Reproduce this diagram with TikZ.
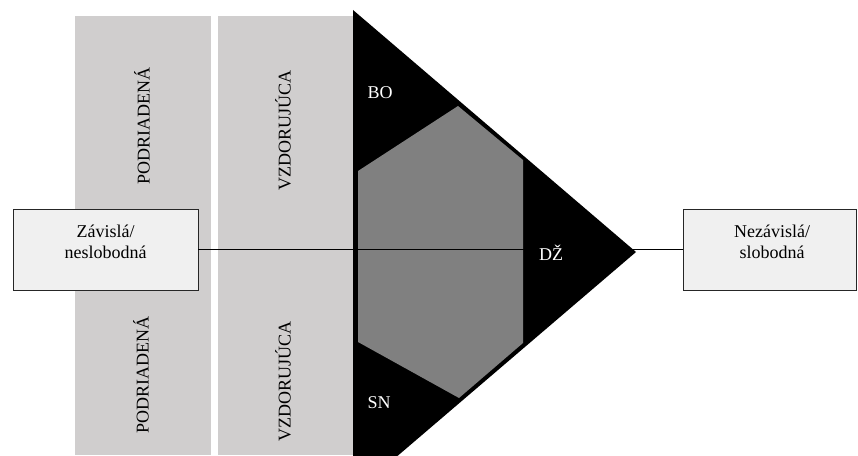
\documentclass[tikz,border=0pt]{standalone}
\usepackage{fontspec}
\setmainfont{Liberation Serif}
\definecolor{colgray}{RGB}{208,206,206}
\definecolor{boxfill}{RGB}{240,240,240}
\definecolor{hexgray}{RGB}{128,128,128}
\begin{document}
\begin{tikzpicture}[x=1pt,y=1pt,
  txt/.style={font=\fontsize{18}{21}\selectfont, inner sep=0pt},
  coltxt/.style={txt, rotate=90},
  wtxt/.style={txt, text=white},
  sidebox/.style={draw=black!85, line width=0.9pt, fill=boxfill, minimum width=185pt, minimum height=81pt, inner sep=0pt}]
\useasboundingbox (0,0) rectangle (858,455);
\clip (0,0) rectangle (858,455);
% columns
\fill[colgray] (75,0) rectangle (211,439);
\fill[colgray] (218,0) rectangle (353,439);
\node[coltxt] (p1) at (142,329) {PODRIADENÁ};
\node[coltxt] (p2) at (141,80) {PODRIADENÁ};
\node[coltxt] (v1) at (283,325) {VZDORUJÚCA};
\node[coltxt] (v2) at (283,74) {VZDORUJÚCA};
% triangle
\fill[black] (353,445) -- (636,203) -- (353,-39) -- cycle;
% hexagon
\fill[hexgray] (358,284) -- (458,349) -- (523,295) -- (523,112) -- (459,57) -- (358,113) -- cycle;
% boxes
\node[sidebox] (left) at (105.5,205.5) {};
\node[sidebox, minimum width=173pt] (right) at (769.5,205.5) {};
\node[txt, align=center] (lt) at (105.5,213) {Závislá/\\neslobodná};
\node[txt, align=center] (rt) at (772,213) {Nezávislá/\\slobodná};
% connector
\draw[line width=0.9pt] (left.east) -- (right.west);
% labels
\node[wtxt] (bo) at (380,362) {BO};
\node[wtxt] (dz) at (551,202) {DŽ};
\node[wtxt] (sn) at (379,52) {SN};
\end{tikzpicture}
\end{document}
